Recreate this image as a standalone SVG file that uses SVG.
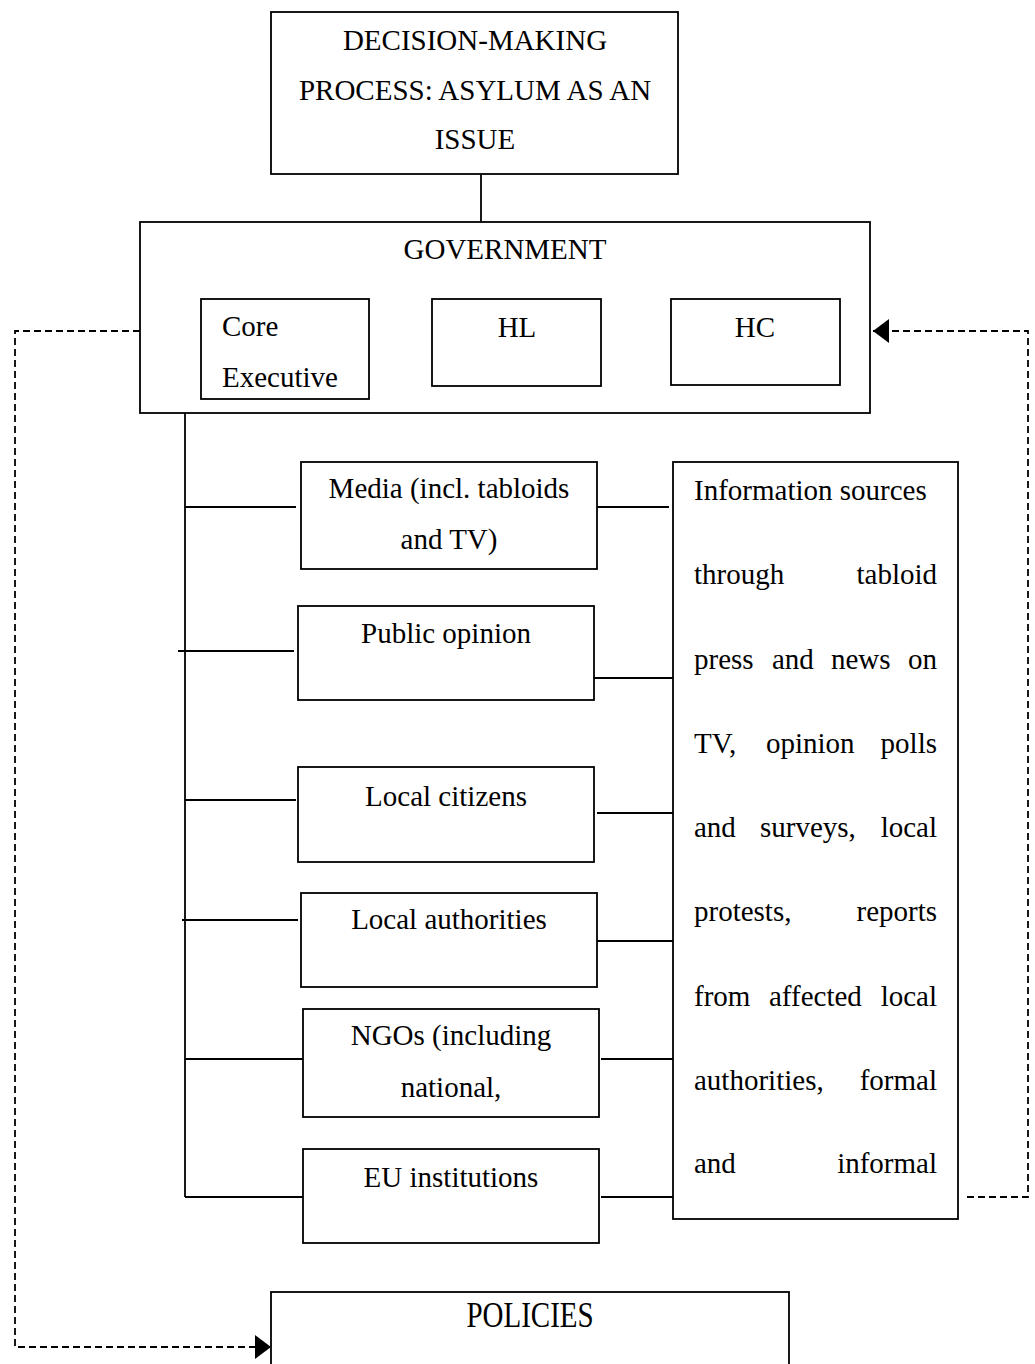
<svg xmlns="http://www.w3.org/2000/svg" width="1035" height="1364" viewBox="0 0 1035 1364">
<style>
.box{fill:#fff;stroke:#000;stroke-width:1.8}
.ln{fill:none;stroke:#000;stroke-width:1.8}
.dash{fill:none;stroke:#000;stroke-width:1.8;stroke-dasharray:7 4}
text{font-family:"Liberation Serif","Times New Roman",serif;font-size:29px;fill:#000}
.c{text-anchor:middle}
.e{text-anchor:end}
</style>
<defs>
<marker id="arr" viewBox="0 0 16 24" refX="16" refY="12" markerWidth="16" markerHeight="24" markerUnits="userSpaceOnUse" orient="auto">
<path d="M0,0 L16,12 L0,24 Z" fill="#000"/>
</marker>
</defs>
<rect width="1035" height="1364" fill="#fff"/>
<g id="connectors">
<line class="ln" x1="481" y1="174" x2="481" y2="222"/>
<line class="ln" x1="423" y1="262" x2="298" y2="299"/>
<line class="ln" x1="496" y1="262" x2="496" y2="299"/>
<line class="ln" x1="606" y1="262" x2="730" y2="299"/>
<line class="ln" x1="185" y1="413" x2="185" y2="1197"/>
<line class="ln" x1="185" y1="507" x2="296" y2="507"/>
<line class="ln" x1="597" y1="507" x2="669" y2="507"/>
<line class="ln" x1="178" y1="651" x2="294" y2="651"/>
<line class="ln" x1="594" y1="678" x2="673" y2="678"/>
<line class="ln" x1="185" y1="800" x2="296" y2="800"/>
<line class="ln" x1="597" y1="813" x2="673" y2="813"/>
<line class="ln" x1="182" y1="920" x2="298" y2="920"/>
<line class="ln" x1="597" y1="941" x2="673" y2="941"/>
<line class="ln" x1="185" y1="1059" x2="303" y2="1059"/>
<line class="ln" x1="601" y1="1059" x2="673" y2="1059"/>
<line class="ln" x1="185" y1="1197" x2="303" y2="1197"/>
<line class="ln" x1="601" y1="1197" x2="673" y2="1197"/>
<path class="dash" d="M967,1197 H1028 V331 H873" marker-end="url(#arr)"/>
<path class="dash" d="M140,331 H15 V1347 H271" marker-end="url(#arr)"/>
</g>
<g id="decision">
<rect class="box" x="271" y="12" width="407" height="162"/>
<text class="c" x="475" y="50">DECISION-MAKING</text>
<text class="c" x="475" y="100">PROCESS: ASYLUM AS AN</text>
<text class="c" x="475" y="149">ISSUE</text>
</g>
<g id="government">
<rect class="box" x="140" y="222" width="730" height="191"/>
<text class="c" x="505" y="259">GOVERNMENT</text>
</g>
<g id="core-executive">
<rect class="box" x="201" y="299" width="168" height="100"/>
<text x="222" y="336">Core</text>
<text x="222" y="387">Executive</text>
</g>
<g id="hl">
<rect class="box" x="432" y="299" width="169" height="87"/>
<text class="c" x="517" y="337">HL</text>
</g>
<g id="hc">
<rect class="box" x="671" y="299" width="169" height="86"/>
<text class="c" x="755" y="337">HC</text>
</g>
<g id="media">
<rect class="box" x="301" y="462" width="296" height="107"/>
<text class="c" x="449" y="498">Media (incl. tabloids</text>
<text class="c" x="449" y="549">and TV)</text>
</g>
<g id="public-opinion">
<rect class="box" x="298" y="606" width="296" height="94"/>
<text class="c" x="446" y="643">Public opinion</text>
</g>
<g id="local-citizens">
<rect class="box" x="298" y="767" width="296" height="95"/>
<text class="c" x="446" y="806">Local citizens</text>
</g>
<g id="local-authorities">
<rect class="box" x="301" y="893" width="296" height="94"/>
<text class="c" x="449" y="929">Local authorities</text>
</g>
<g id="ngos">
<rect class="box" x="303" y="1009" width="296" height="108"/>
<text class="c" x="451" y="1045">NGOs (including</text>
<text class="c" x="451" y="1097">national,</text>
</g>
<g id="eu-institutions">
<rect class="box" x="303" y="1149" width="296" height="94"/>
<text class="c" x="451" y="1187">EU institutions</text>
</g>
<g id="information-sources">
<rect class="box" x="673" y="462" width="285" height="757"/>
<text x="694" y="500">Information sources</text>
<text x="694" y="584">through</text><text class="e" x="937" y="584">tabloid</text>
<text x="694" y="669">press</text><text x="772" y="669">and</text><text x="831" y="669">news</text><text class="e" x="937" y="669">on</text>
<text x="694" y="753">TV,</text><text x="766" y="753">opinion</text><text class="e" x="937" y="753">polls</text>
<text x="694" y="837">and</text><text x="760" y="837">surveys,</text><text class="e" x="937" y="837">local</text>
<text x="694" y="921">protests,</text><text class="e" x="937" y="921">reports</text>
<text x="694" y="1006">from</text><text x="769" y="1006">affected</text><text class="e" x="937" y="1006">local</text>
<text x="694" y="1090">authorities,</text><text class="e" x="937" y="1090">formal</text>
<text x="694" y="1173">and</text><text class="e" x="937" y="1173">informal</text>
</g>
<g id="policies">
<rect class="box" x="271" y="1292" width="518" height="90"/>
<text class="c" transform="translate(530,1327) scale(1,1.2)" x="0" y="0">POLICIES</text>
</g>
</svg>
